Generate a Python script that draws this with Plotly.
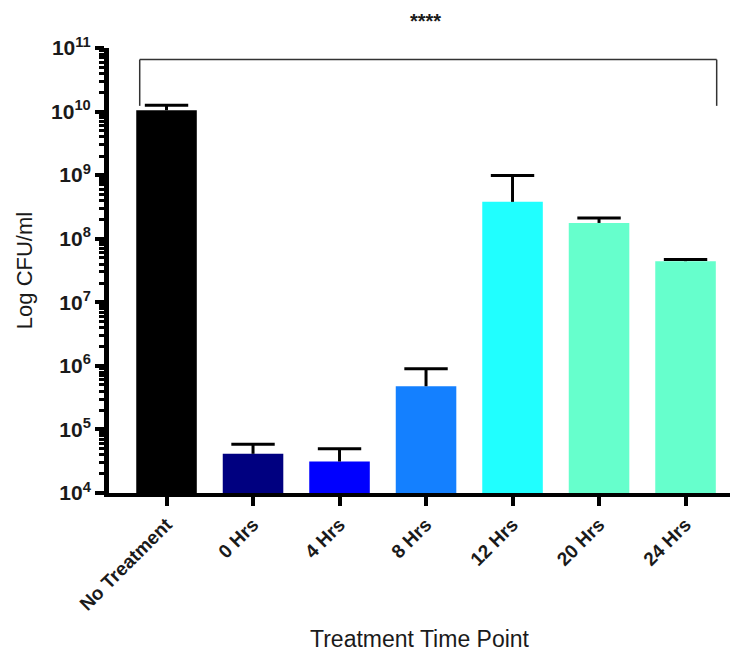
import plotly.graph_objects as go

categories = ["No Treatment", "0 Hrs", "4 Hrs", "8 Hrs", "12 Hrs", "20 Hrs", "24 Hrs"]
means = [1.05e10, 4.13e4, 3.13e4, 4.78e5, 3.80e8, 1.77e8, 4.43e7]
err_plus = [0.21e10, 1.72e4, 1.82e4, 4.2e5, 6.1e8, 0.34e8, 0.3e7]
colors = ["#000000", "#000080", "#0000FF", "#1480FF", "#20FFFF", "#66FFCC", "#66FFCC"]

y_decades = [4, 5, 6, 7, 8, 9, 10, 11]
y_ticktext = ["10<sup>%d</sup>" % d for d in y_decades]
y_tickvals = [10 ** d for d in y_decades]
minor_vals = [k * 10 ** d for d in y_decades[:-1] for k in range(2, 10)]

significance = "****"

xs = list(range(len(categories)))
tops = [m + e for m, e in zip(means, err_plus)]

fig = go.Figure()
fig.add_trace(go.Bar(
    x=xs, y=means, width=0.70,
    marker=dict(color=colors, line=dict(width=0)),
    hoverinfo="skip",
))

# upper-only error bars: stems
stem_x, stem_y = [], []
for x, m, t in zip(xs, means, tops):
    stem_x += [x, x, None]
    stem_y += [m, t, None]
fig.add_trace(go.Scatter(x=stem_x, y=stem_y, mode="lines",
                         line=dict(color="black", width=3), hoverinfo="skip"))
# caps
fig.add_trace(go.Scatter(x=xs, y=tops, mode="markers",
                         marker=dict(symbol="line-ew", size=31,
                                     line=dict(color="black", width=3)),
                         hoverinfo="skip"))

fig.update_layout(
    width=731, height=653,
    margin=dict(l=109, r=1, t=48, b=160),
    paper_bgcolor="white", plot_bgcolor="white",
    showlegend=False,
    font=dict(family="Arial, Liberation Sans", color="#1a1a1a"),
    xaxis=dict(
        range=[-0.665, 6.514],
        tickmode="array",
        tickvals=xs,
        ticktext=categories,
        tickangle=-45,
        tickfont=dict(size=19, weight="bold", color="#1a1a1a"),
        ticks="outside", ticklen=9, tickwidth=4, tickcolor="black",
        showline=True, linecolor="black", linewidth=4,
        showgrid=False, zeroline=False,
        title=dict(text="Treatment Time Point", font=dict(size=23, color="#1a1a1a"), standoff=18),
    ),
    yaxis=dict(
        type="log",
        range=[4, 11],
        tickmode="array",
        tickvals=y_tickvals,
        ticktext=y_ticktext,
        tickfont=dict(size=21, weight="bold", color="#1a1a1a"),
        ticks="outside", ticklen=9, tickwidth=4, tickcolor="black",
        minor=dict(tickvals=minor_vals, ticks="outside", ticklen=5,
                   tickwidth=3, tickcolor="black", showgrid=False),
        showline=True, linecolor="black", linewidth=5,
        showgrid=False, zeroline=False,
        title=dict(text="Log CFU/ml", font=dict(size=22, color="#1a1a1a"), standoff=14),
    ),
)

# x-axis line extension to the left of the y spine
fig.add_shape(type="line", xref="paper", yref="paper", x0=-0.016, x1=0, y0=0, y1=0,
              line=dict(color="black", width=4))

# significance bracket
bx0, bx1 = -0.31, 6.36
ytop, ybot = 0.974, 0.870
for (x0, y0, x1, y1) in [(bx0, ybot, bx0, ytop), (bx0, ytop, bx1, ytop), (bx1, ytop, bx1, ybot)]:
    fig.add_shape(type="line", xref="x", yref="paper", x0=x0, y0=y0, x1=x1, y1=y1,
                  line=dict(color="#333333", width=1.5))

fig.add_annotation(text=significance, xref="paper", yref="paper", x=0.51, y=1.061,
                   showarrow=False, font=dict(size=20, weight="bold", color="#1a1a1a"),
                   xanchor="center", yanchor="middle")

fig.write_html("out.html", config={"displayModeBar": False},
               post_script="document.body.style.margin='0';document.body.style.overflow='hidden';")
